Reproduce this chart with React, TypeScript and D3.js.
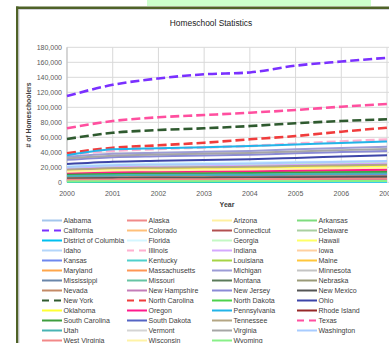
import React from 'react';
import * as d3 from 'd3';

const years = [2000, 2001, 2002, 2003, 2004, 2005, 2006, 2007];
const yTicks = [0, 20000, 40000, 60000, 80000, 100000, 120000, 140000, 160000, 180000];

const states = [
  'Alabama', 'Alaska', 'Arizona', 'Arkansas',
  'California', 'Colorado', 'Connecticut', 'Delaware',
  'District of Columbia', 'Florida', 'Georgia', 'Hawaii',
  'Idaho', 'Illinois', 'Indiana', 'Iowa',
  'Kansas', 'Kentucky', 'Louisiana', 'Maine',
  'Maryland', 'Massachusetts', 'Michigan', 'Minnesota',
  'Mississippi', 'Missouri', 'Montana', 'Nebraska',
  'Nevada', 'New Hampshire', 'New Jersey', 'New Mexico',
  'New York', 'North Carolina', 'North Dakota', 'Ohio',
  'Oklahoma', 'Oregon', 'Pennsylvania', 'Rhode Island',
  'South Carolina', 'South Dakota', 'Tennessee', 'Texas',
  'Utah', 'Vermont', 'Virginia', 'Washington',
  'West Virginia', 'Wisconsin', 'Wyoming',
];

const colors = [
  '#a4c6ec', '#f08a8a', '#fff0a0', '#7edc7e',
  '#7a30ff', '#ffc07a', '#b25050', '#a9cfa0',
  '#00c0f0', '#d4f6ff', '#c4f8c4', '#ffff66',
  '#b4d6fa', '#ffb0d0', '#d4a8ff', '#ffd0a0',
  '#6f88ef', '#4fd0cc', '#a6d445', '#ffc63a',
  '#ffa64a', '#ff9655', '#9c9cd6', '#c4c4c4',
  '#6a86aa', '#66c4a4', '#5a7a5a', '#9a9a78',
  '#c48a66', '#c47cb8', '#8a8ad6', '#555555',
  '#2f5a2f', '#f03c3c', '#4cd24c', '#3d45a8',
  '#ffff33', '#ff1a8c', '#22b4e8', '#962828',
  '#3e9e3e', '#5565c4', '#b4a684', '#ff4f9f',
  '#48b4b4', '#d4d4d4', '#a6a6a6', '#a8ccff',
  '#f28888', '#fff3a6', '#88f088',
];

const dashedStates = ['California', 'Illinois', 'New York', 'North Carolina', 'Texas'];

const values: number[][] = [
  [11000, 12500, 13000, 13400, 13900, 14600, 15200, 15800],
  [3000, 3300, 3400, 3500, 3600, 3800, 3900, 4100],
  [17000, 19000, 19800, 20400, 21000, 22200, 23100, 24000],
  [6500, 7200, 7500, 7700, 8000, 8400, 8800, 9100],
  [115000, 130000, 138500, 144000, 146500, 155500, 161000, 166000],
  [13500, 15000, 15600, 16000, 16500, 17300, 18000, 18700],
  [5500, 6000, 6200, 6400, 6600, 6900, 7200, 7500],
  [1800, 2000, 2100, 2150, 2200, 2350, 2450, 2550],
  [400, 450, 480, 500, 520, 550, 580, 600],
  [22000, 24500, 25400, 26000, 26600, 27300, 27900, 28500],
  [19500, 21800, 22700, 23300, 24000, 25200, 26200, 27200],
  [2800, 3100, 3200, 3300, 3400, 3600, 3700, 3850],
  [5000, 5600, 5800, 6000, 6200, 6500, 6800, 7000],
  [37000, 42000, 44500, 46500, 48500, 51500, 54500, 57000],
  [18000, 20000, 20800, 21400, 22000, 23100, 24000, 25000],
  [7500, 8300, 8600, 8900, 9200, 9600, 10000, 10400],
  [7800, 8600, 9000, 9200, 9500, 10000, 10400, 10800],
  [10500, 11700, 12200, 12500, 12900, 13500, 14100, 14600],
  [11500, 12800, 13300, 13700, 14100, 14800, 15400, 16000],
  [3800, 4200, 4400, 4500, 4650, 4900, 5100, 5300],
  [14500, 16200, 16800, 17300, 17800, 18700, 19500, 20200],
  [13000, 14500, 15100, 15500, 16000, 16800, 17500, 18100],
  [34000, 38000, 39500, 40700, 41800, 44000, 45800, 47500],
  [15000, 16700, 17400, 17900, 18400, 19300, 20100, 20800],
  [6000, 6700, 7000, 7200, 7400, 7800, 8100, 8400],
  [16500, 18400, 19100, 19700, 20300, 21300, 22200, 23000],
  [3200, 3500, 3700, 3800, 3900, 4100, 4300, 4450],
  [4200, 4700, 4900, 5000, 5200, 5400, 5600, 5850],
  [5800, 6500, 6800, 7000, 7200, 7600, 7900, 8200],
  [3000, 3300, 3450, 3550, 3650, 3850, 4000, 4150],
  [30000, 33500, 34800, 35800, 36800, 38700, 40300, 41800],
  [5200, 5800, 6000, 6200, 6400, 6700, 7000, 7300],
  [57700, 66000, 69700, 72000, 75000, 78700, 81700, 84000],
  [38700, 46000, 49300, 52800, 57300, 61700, 67500, 72800],
  [1300, 1450, 1500, 1550, 1600, 1700, 1750, 1800],
  [24500, 27500, 28800, 29800, 30800, 32500, 34300, 36200],
  [15500, 17300, 18000, 18500, 19000, 20000, 20800, 21600],
  [12000, 13400, 13900, 14300, 14700, 15500, 16100, 16700],
  [36000, 44000, 45500, 46800, 48300, 50500, 52300, 54300],
  [1800, 2000, 2100, 2150, 2200, 2300, 2400, 2500],
  [10000, 11200, 11600, 11900, 12300, 12900, 13400, 13900],
  [1700, 1900, 2000, 2050, 2100, 2200, 2300, 2400],
  [16800, 18700, 19500, 20000, 20600, 21700, 22500, 23300],
  [72000, 81700, 86700, 89700, 92800, 96400, 100800, 104400],
  [8500, 9500, 9900, 10200, 10500, 11000, 11500, 11900],
  [1600, 1800, 1850, 1900, 1950, 2050, 2150, 2200],
  [32000, 35500, 37000, 38000, 39200, 41200, 42900, 44500],
  [20500, 22800, 23800, 24400, 25100, 26400, 27400, 28400],
  [3500, 3900, 4000, 4150, 4300, 4500, 4650, 4850],
  [14000, 15600, 16200, 16700, 17200, 18000, 18800, 19500],
  [1200, 1350, 1400, 1450, 1500, 1550, 1650, 1700],
];

const FONT = 'Liberation Sans, Arial, sans-serif';

export default function App() {
  const W = 389;
  const H = 343;
  const x = d3.scaleLinear().domain([2000, 2007]).range([67, 387]);
  const y = d3.scaleLinear().domain([0, 180000]).range([182.3, 47.3]);
  const line = d3
    .line<number>()
    .x((_, i) => x(years[i]))
    .y((d) => y(d))
    .curve(d3.curveMonotoneX);

  const legendCols = [42, 127, 212, 297];
  const legendRow0 = 220.5;
  const legendStep = 10;

  return (
    <svg
      width={W}
      height={H}
      style={{ position: 'absolute', left: 0, top: 0, background: '#fff' }}
      fontFamily={FONT}
    >
      <rect x={0} y={0} width={W} height={H} fill="#fff" />
      {/* page decorations */}
      <rect x={147} y={0} width={224} height={6} fill="#ccffcc" />
      <rect x={16} y={6.5} width={W - 16} height={2.5} fill="#4f6228" />
      <rect x={16} y={6.5} width={2.5} height={H} fill="#4f6228" />
      <line x1={19} y1={9.5} x2={W} y2={9.5} stroke="#d0d0d8" strokeWidth={1} />
      <line x1={19} y1={9.5} x2={19} y2={H} stroke="#d0d0d8" strokeWidth={1} />

      <text x={211} y={26} textAnchor="middle" fontSize={8.4} fill="#222">
        Homeschool Statistics
      </text>

      {/* grid */}
      <g>
        {yTicks.map((t) => (
          <line key={'h' + t} x1={67} x2={W} y1={y(t)} y2={y(t)} stroke="#d9d9d9" strokeWidth={1} />
        ))}
        {years.map((yr) => (
          <line key={'v' + yr} x1={x(yr)} x2={x(yr)} y1={y(180000)} y2={y(0)} stroke="#d9d9d9" strokeWidth={1} />
        ))}
        <line x1={67} x2={67} y1={y(180000)} y2={y(0)} stroke="#bfbfbf" strokeWidth={1} />
      </g>

      {/* y tick labels */}
      {yTicks.map((t) => (
        <text key={'yt' + t} x={62} y={y(t) + 2.5} textAnchor="end" fontSize={7} fill="#595959">
          {d3.format(',')(t)}
        </text>
      ))}
      {/* x tick labels */}
      {years.map((yr) => (
        <text key={'xt' + yr} x={x(yr)} y={195.5} textAnchor="middle" fontSize={7} fill="#595959">
          {yr}
        </text>
      ))}
      <text x={227} y={207} textAnchor="middle" fontSize={7} fontWeight="bold" fill="#404040">
        Year
      </text>
      <text
        transform={`translate(30.5,115) rotate(-90)`}
        textAnchor="middle"
        fontSize={6.8}
        fontWeight="bold"
        fill="#404040"
      >
        # of Homeschoolers
      </text>

      {/* series */}
      <g>
        {states.map((s, i) => {
          const dashed = dashedStates.includes(s);
          return (
            <path
              key={s}
              d={line(values[i]) || ''}
              fill="none"
              stroke={colors[i]}
              strokeWidth={dashed ? 2.6 : 2}
              strokeDasharray={dashed ? '9,4' : undefined}
            />
          );
        })}
      </g>

      {/* legend */}
      <g>
        {states.map((s, i) => {
          const col = i % 4;
          const row = Math.floor(i / 4);
          const lx = legendCols[col];
          const ly = legendRow0 + row * legendStep;
          const dashed = dashedStates.includes(s);
          return (
            <g key={'lg' + s}>
              <line
                x1={lx}
                x2={lx + 20}
                y1={ly}
                y2={ly}
                stroke={colors[i]}
                strokeWidth={dashed ? 2.2 : 2}
                strokeDasharray={dashed ? '7,5' : undefined}
              />
              <text x={lx + 21.5} y={ly + 2.5} fontSize={7} fill="#404040">
                {s}
              </text>
            </g>
          );
        })}
      </g>
    </svg>
  );
}
